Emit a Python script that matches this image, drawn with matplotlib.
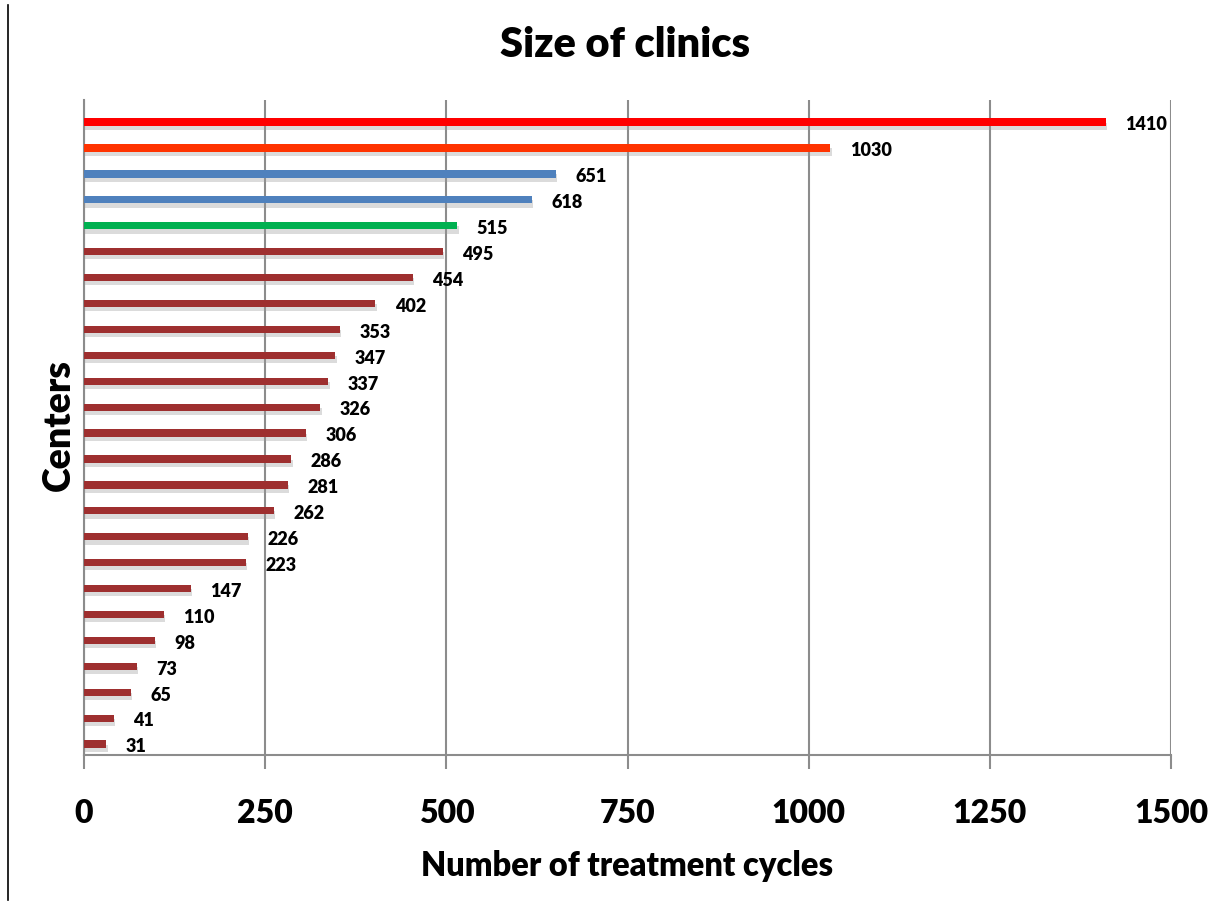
import matplotlib
matplotlib.use("Agg")
import matplotlib.pyplot as plt
import matplotlib.patheffects as pe
from matplotlib.lines import Line2D

values = [1410, 1030, 651, 618, 515, 495, 454, 402, 353, 347, 337, 326, 306,
          286, 281, 262, 226, 223, 147, 110, 98, 73, 65, 41, 31]
colors = ["#FF0000", "#FF3300", "#4F81BD", "#4F81BD", "#00B050"] + ["#9E2F2F"] * 20
xticks = [0, 250, 500, 750, 1000, 1250, 1500]

FONT = ["Lato", "DejaVu Sans"]

fig = plt.figure(figsize=(12.21, 9.14), dpi=100)
ax = fig.add_axes([84/1221, 1-755/914, (1171-84)/1221, (755-100)/914])

n = len(values)
ypos = [n - 1 - i for i in range(n)]
bars = ax.barh(ypos, values, height=0.28, color=colors, zorder=3)
for b in bars:
    b.set_path_effects([pe.SimplePatchShadow(offset=(1, -3), shadow_rgbFace="#999999", alpha=0.35), pe.Normal()])

for y, v in zip(ypos, values):
    ax.annotate(str(v), (v, y), xytext=(14, -2), textcoords="offset points",
                va="center", ha="left", fontsize=13, fontweight="heavy",
                family=FONT, color="black")

ax.set_xlim(0, 1500)
ax.set_ylim(-0.42, n - 1 + 0.85)
ax.set_xticks(xticks)
ax.set_xticklabels([str(t) for t in xticks], fontsize=23, fontweight="heavy", family=FONT)
ax.tick_params(axis="x", length=10, width=1.5, color="#8C8C8C", pad=22)
ax.set_yticks([])
ax.grid(axis="x", color="#8C8C8C", linewidth=1.5, zorder=0)
for s in ["top", "right"]:
    ax.spines[s].set_visible(False)
ax.spines["left"].set_color("#8C8C8C")
ax.spines["left"].set_linewidth(1.5)
ax.spines["bottom"].set_color("#8C8C8C")
ax.spines["bottom"].set_linewidth(1.5)

fig.text(625/1221, 1-45/914, "Size of clinics", ha="center", va="center",
         fontsize=30, fontweight="heavy", family=FONT)
fig.text(627/1221, 1-866/914, "Number of treatment cycles", ha="center", va="center",
         fontsize=23.5, fontweight="heavy", family=FONT)
fig.text(59/1221, 1-425/914, "Centers", ha="center", va="center", rotation=90,
         fontsize=27, fontweight="heavy", family=FONT)

fig.add_artist(Line2D([8/1221, 8/1221], [1-5/914, 1-900/914], color="black", linewidth=1.2))

fig.savefig("out.png", dpi=100)
